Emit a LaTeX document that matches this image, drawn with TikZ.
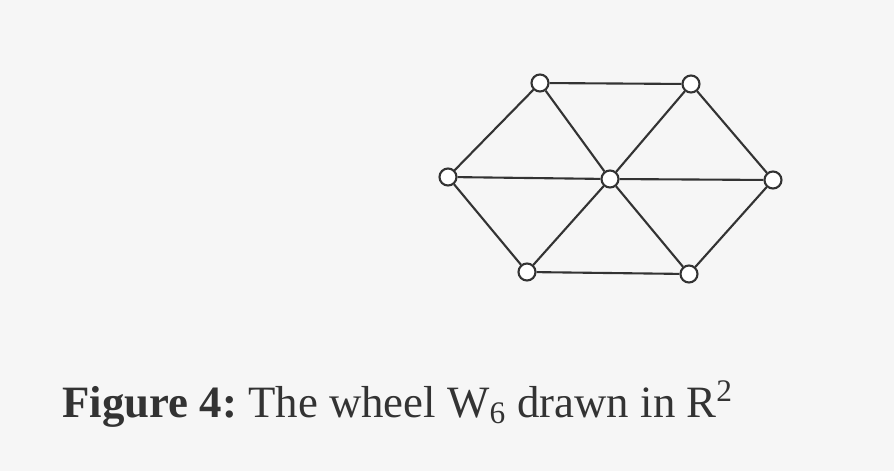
\documentclass[tikz,border=0pt]{standalone}
\usepackage{fontspec}
\setmainfont{Liberation Serif}
\definecolor{paper}{gray}{0.965}
\definecolor{ink}{gray}{0.2}
\tikzset{
  vtx/.style={circle, draw=ink, fill=white, line width=1.2pt, inner sep=0pt, minimum size=0.34cm},
  edge/.style={draw=ink, line width=1.2pt}
}
\begin{document}
\begin{tikzpicture}[x=0.02cm, y=-0.02cm]
\fill[paper] (0,0) rectangle (894,471);
\useasboundingbox (0,0) rectangle (894,471);
% --- wheel: hub and rim ---
\node[vtx] (v0) at (610,179) {};
\node[vtx] (v1) at (540,83) {};
\node[vtx] (v2) at (691,84) {};
\node[vtx] (v3) at (773,180) {};
\node[vtx] (v4) at (689,274) {};
\node[vtx] (v5) at (527,272) {};
\node[vtx] (v6) at (448,177) {};
\foreach \a/\b in {v1/v2, v2/v3, v3/v4, v4/v5, v5/v6, v6/v1,
                   v0/v1, v0/v2, v0/v3, v0/v4, v0/v5, v0/v6}
  \draw[edge] (\a) -- (\b);
% --- caption ---
\node[anchor=base west, inner sep=0pt, font=\fontsize{25.5}{30}\selectfont, text=ink] (cap) at (62,417)
  {\textbf{Figure 4:}\hspace{-0.08em} The wheel W$_{\mathrm{6}}$ drawn in R$^{\mathrm{2}}$};
\end{tikzpicture}
\end{document}
